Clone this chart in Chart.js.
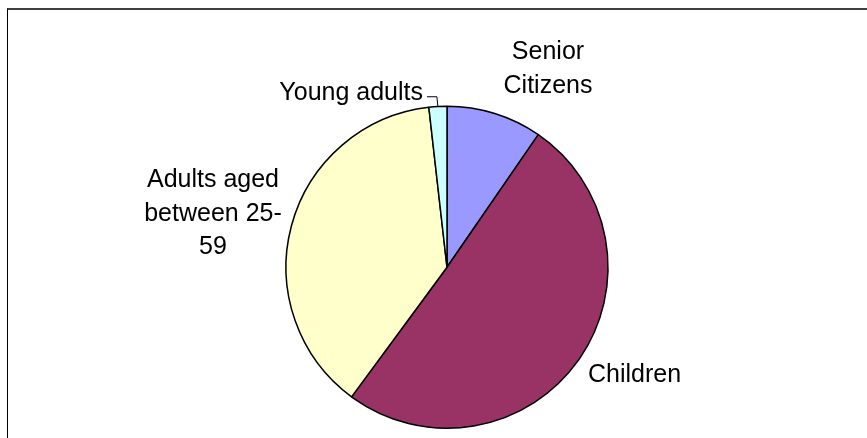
<!DOCTYPE html>
<html>
<head>
<meta charset="utf-8">
<script src="https://cdn.jsdelivr.net/npm/chart.js@4"></script>
<style>
  html, body { margin: 0; padding: 0; background: #fff; }
  #wrap { position: relative; width: 867px; height: 438px; overflow: hidden; }
  #frame { position: absolute; left: 7px; top: 8px; width: 870px; height: 440px;
           border-top: 2px solid #404040; border-left: 1px solid #000; box-sizing: border-box; }
  canvas { position: absolute; left: 0; top: 0; }
</style>
</head>
<body>
<div id="wrap">
  <div id="frame"></div>
  <canvas id="graph1" width="867" height="438"></canvas>
</div>
<script>
// slice data, clockwise from 12 o'clock
const categories = ['Senior Citizens', 'Children', 'Adults aged between 25-59', 'Young adults'];
const shares = [9.6, 50.5, 38.1, 1.8];
const sliceColors = ['#9999FF', '#993366', '#FFFFCC', '#CCFFFF'];

// how each label is broken into lines, and where it sits relative to the pie centre
const labelLines = [['Senior', 'Citizens'], ['Children'], ['Adults aged', 'between 25-', '59'], ['Young adults']];
const labelSpots = [
  { dx: 101, dy: -208, align: 'center' },
  { dx: 141, dy: 115, align: 'left' },
  { dx: -234, dy: -80, align: 'center' },
  { dx: -24, dy: -167, align: 'right' }
];

const pieLabels = {
  id: 'pieLabels',
  afterDraw(chart) {
    const ctx = chart.ctx;
    const arcs = chart.getDatasetMeta(0).data;
    const cx = arcs[0].x, cy = arcs[0].y, r = arcs[0].outerRadius;
    ctx.save();
    ctx.fillStyle = '#000';
    ctx.font = '25px "Liberation Sans", Arial, sans-serif';
    ctx.textBaseline = 'alphabetic';
    labelLines.forEach((lines, i) => {
      const s = labelSpots[i];
      ctx.textAlign = s.align;
      lines.forEach((t, j) => ctx.fillText(t, cx + s.dx, cy + s.dy + j * 33.5));
    });
    // leader line for the thin slice
    const a = arcs[3];
    const mid = (a.startAngle + a.endAngle) / 2;
    const ex = cx + Math.cos(mid) * r, ey = cy + Math.sin(mid) * r;
    ctx.strokeStyle = '#000';
    ctx.lineWidth = 1;
    ctx.beginPath();
    ctx.moveTo(cx - 20, cy - 170.5);
    ctx.lineTo(ex - 1, cy - 170.5);
    ctx.lineTo(ex, ey);
    ctx.stroke();
    ctx.restore();
  }
};

new Chart(document.getElementById('graph1'), {
  type: 'pie',
  data: {
    labels: categories,
    datasets: [{
      data: shares,
      backgroundColor: sliceColors,
      borderColor: '#000',
      borderWidth: 1.5
    }]
  },
  options: {
    responsive: false,
    animation: false,
    layout: { padding: { top: 105.5, bottom: 9, left: 127, right: 100 } },
    plugins: {
      legend: { display: false },
      tooltip: { enabled: false }
    }
  },
  plugins: [pieLabels]
});
</script>
</body>
</html>
